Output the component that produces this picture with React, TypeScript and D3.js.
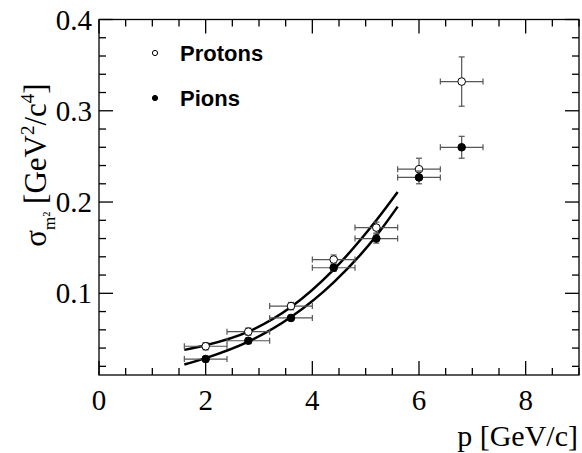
import React from "react";
import * as d3 from "d3";

const pX = [2, 2.8, 3.6, 4.4, 5.2, 6, 6.8];
const protonY = [0.042, 0.058, 0.086, 0.137, 0.172, 0.236, 0.332];
const protonErr = [0.004, 0.004, 0.004, 0.005, 0.006, 0.012, 0.027];
const pionY = [0.028, 0.048, 0.073, 0.128, 0.160, 0.227, 0.260];
const pionErr = [0.003, 0.003, 0.003, 0.004, 0.005, 0.007, 0.012];
const xErr = 0.4;
const fitX = [1.6, 2, 2.8, 3.6, 4.4, 5.2, 5.6];
const protonFit = [0.038, 0.043, 0.058, 0.085, 0.126, 0.180, 0.211];
const pionFit = [0.022, 0.029, 0.047, 0.074, 0.112, 0.163, 0.195];
const xTicks = [0, 2, 4, 6, 8];
const yTicks = [0.1, 0.2, 0.3, 0.4];

export default function App() {
  const L = 99, R = 579, T = 19.5, B = 375;
  const x = d3.scaleLinear().domain([0, 9]).range([L, R]);
  const y = d3.scaleLinear().domain([0.0105, 0.4]).range([B, T]);
  const line = d3.line<[number, number]>().x(d => x(d[0])).y(d => y(d[1])).curve(d3.curveMonotoneX);
  const xMinor = d3.range(0, 9.01, 0.5);
  const yMinor = d3.range(0.02, 0.401, 0.02);
  const serif = "'Liberation Serif', 'Times New Roman', serif";
  const sans = "'Liberation Sans', Arial, sans-serif";
  const points = (ys: number[], es: number[], filled: boolean) =>
    pX.map((px, i) => (
      <g key={i} stroke="#555" strokeWidth={1.2}>
        <line x1={x(px - xErr)} x2={x(px + xErr)} y1={y(ys[i])} y2={y(ys[i])} />
        <line x1={x(px - xErr)} x2={x(px - xErr)} y1={y(ys[i]) - 3} y2={y(ys[i]) + 3} />
        <line x1={x(px + xErr)} x2={x(px + xErr)} y1={y(ys[i]) - 3} y2={y(ys[i]) + 3} />
        <line x1={x(px)} x2={x(px)} y1={y(ys[i] - es[i])} y2={y(ys[i] + es[i])} />
        <line x1={x(px) - 3} x2={x(px) + 3} y1={y(ys[i] - es[i])} y2={y(ys[i] - es[i])} />
        <line x1={x(px) - 3} x2={x(px) + 3} y1={y(ys[i] + es[i])} y2={y(ys[i] + es[i])} />
        <circle cx={x(px)} cy={y(ys[i])} r={3.8} fill={filled ? "#000" : "#fff"} stroke="#000" strokeWidth={1} />
      </g>
    ));
  return (
    <svg width={582} height={453} style={{ position: "absolute", left: 0, top: 0 }}>
      <rect width={582} height={453} fill="#fff" />
      <path d={line(fitX.map((v, i) => [v, protonFit[i]]))!} fill="none" stroke="#000" strokeWidth={2.5} />
      <path d={line(fitX.map((v, i) => [v, pionFit[i]]))!} fill="none" stroke="#000" strokeWidth={2.5} />
      {points(protonY, protonErr, false)}
      {points(pionY, pionErr, true)}
      <g stroke="#000" strokeWidth={1.3}>
        <rect x={L} y={T} width={R - L} height={B - T} fill="none" />
        {xMinor.map(v => {
          const major = Math.abs(v / 2 - Math.round(v / 2)) < 1e-6;
          const len = major ? 14 : 7;
          return <g key={v}><line x1={x(v)} x2={x(v)} y1={B} y2={B - len} /><line x1={x(v)} x2={x(v)} y1={T} y2={T + len} /></g>;
        })}
        {yMinor.map(v => {
          const major = Math.abs(v * 10 - Math.round(v * 10)) < 1e-6;
          const len = major ? 14 : 7;
          return <g key={v}><line x1={L} x2={L + len} y1={y(v)} y2={y(v)} /><line x1={R} x2={R - len} y1={y(v)} y2={y(v)} /></g>;
        })}
      </g>
      {xTicks.map(v => (
        <text key={v} x={x(v)} y={410} textAnchor="middle" fontFamily={serif} fontSize={29}>{v}</text>
      ))}
      {yTicks.map(v => (
        <text key={v} x={92} y={y(v) + 10} textAnchor="end" fontFamily={serif} fontSize={29}>{v.toFixed(1)}</text>
      ))}
      <text x={578} y={446} textAnchor="end" fontFamily={serif} fontSize={30}>p [GeV/c]</text>
      <text transform="translate(46,165) rotate(-90)" textAnchor="middle" fontFamily={serif} fontSize={31}>
        σ<tspan fontSize={17} dy={9}>m²</tspan><tspan dy={-9}> [GeV</tspan><tspan fontSize={19} dy={-12}>2</tspan><tspan dy={12}>/c</tspan><tspan fontSize={19} dy={-12}>4</tspan><tspan dy={12}>]</tspan>
      </text>
      <circle cx={155} cy={53} r={2.6} fill="#fff" stroke="#000" />
      <text x={180} y={61} fontFamily={sans} fontWeight="bold" fontSize={22}>Protons</text>
      <circle cx={155} cy={98} r={2.6} fill="#000" stroke="#000" />
      <text x={180} y={106} fontFamily={sans} fontWeight="bold" fontSize={22}>Pions</text>
    </svg>
  );
}
